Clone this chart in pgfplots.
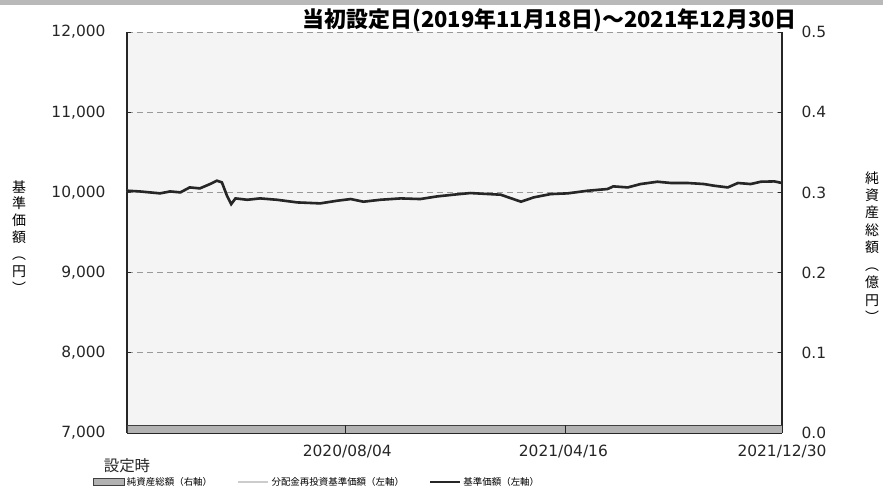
\documentclass[border=0pt]{standalone}
\usepackage{pgfplots}
\pgfplotsset{compat=1.18}
\usepackage{fontspec}
\setmainfont{DejaVu Sans}
\newfontfamily\jp{Noto Sans CJK JP}
\definecolor{plotbg}{HTML}{F4F4F4}
\definecolor{axcol}{HTML}{262626}
\pgfplotsset{
  lightleg/.style={legend image code/.code={\draw[gray!40, line width=2.4pt] (0bp,0bp) -- (30bp,0bp);}},
  darkleg/.style={legend image code/.code={\draw[black!85, line width=2.4pt] (0bp,0bp) -- (30bp,0bp);}},
  boxleg/.style={legend image code/.code={\draw[fill=gray!60, draw=black!75, line width=0.8pt] (0bp,-3.5bp) rectangle (31bp,3.5bp);}},
}
\begin{document}
\begin{tikzpicture}[x=1bp,y=1bp]
\path[use as bounding box] (0,0) rectangle (883,493);
\fill[gray!55] (0,488) rectangle (883,493);
\pgfplotsset{
  common/.style={
    scale only axis, width=655bp, height=401bp,
    at={(127bp,60bp)}, anchor=south west,
    xmin=0, xmax=773,
    axis line style={axcol, line width=1.4pt},
    tick style={axcol, line width=0.8pt},
    tick align=inside, major tick length=4bp,
    /pgf/number format/assume math mode=true,
    ticklabel style={font=\fontsize{15.5}{17}\selectfont, text=black!85},
  }
}
\begin{axis}[common,
  axis background/.style={fill=plotbg},
  ymin=7000, ymax=12000,
  ytick={7000,8000,9000,10000,11000,12000},
  scaled y ticks=false,
  yticklabel style={/pgf/number format/.cd, fixed, 1000 sep={,}, /tikz/.cd, xshift=-18bp},
  ymajorgrids, grid style={dashed, gray!80, line width=0.8pt, dash pattern=on 6bp off 4bp},
  xtick={0,260,515,773},
  xticklabels={{\rule{0pt}{26bp}\jp 設定時},2020/08/04,2021/04/16,2021/12/30},
  xticklabel style={yshift=-9bp},
  axis y line*=left, axis x line*=bottom,
  clip=false,
]
\addplot[gray!35, line width=2.4pt] coordinates {
(0,10021)(15,10012)(39,9988)(51,10012)(63,10000)(74,10062)(86,10050)(98,10104)(106,10146)(112,10125)(118,9958)(123,9854)(128,9925)(142,9908)(157,9925)(177,9908)(201,9875)(228,9863)(248,9896)(264,9917)(279,9884)(299,9908)(323,9925)(346,9917)(366,9950)(385,9971)(405,9992)(441,9971)(465,9884)(480,9938)(500,9979)(520,9988)(544,10021)(567,10042)(574,10075)(591,10062)(606,10104)(626,10133)(642,10117)(662,10117)(681,10104)(693,10083)(709,10062)(721,10117)(736,10104)(748,10133)(764,10137)(773,10117)};
\addplot[black!85, line width=2.6pt] coordinates {
(0,10021)(15,10012)(39,9988)(51,10012)(63,10000)(74,10062)(86,10050)(98,10104)(106,10146)(112,10125)(118,9958)(123,9854)(128,9925)(142,9908)(157,9925)(177,9908)(201,9875)(228,9863)(248,9896)(264,9917)(279,9884)(299,9908)(323,9925)(346,9917)(366,9950)(385,9971)(405,9992)(441,9971)(465,9884)(480,9938)(500,9979)(520,9988)(544,10021)(567,10042)(574,10075)(591,10062)(606,10104)(626,10133)(642,10117)(662,10117)(681,10104)(693,10083)(709,10062)(721,10117)(736,10104)(748,10133)(764,10137)(773,10117)};
\end{axis}
\begin{axis}[common,
  ymin=0, ymax=0.5,
  ytick={0,0.1,0.2,0.3,0.4,0.5},
  yticklabel style={/pgf/number format/.cd, fixed, fixed zerofill, precision=1, /tikz/.cd, xshift=16bp},
  axis y line*=right, axis x line=none,
  legend columns=3,
  legend style={at={(-37bp,-49bp)}, anchor=west, draw=none, fill=none,
    font=\jp\fontsize{9.5}{11}\selectfont,
    /tikz/every even column/.append style={column sep=23bp},
    nodes={inner xsep=2bp}},
]
\addplot[fill=gray!60, draw=black!75, line width=0.8pt, boxleg]
  coordinates {(0,0.009)(773,0.009)} \closedcycle;
\addlegendentry{純資産総額（右軸）}
\addlegendimage{lightleg}
\addlegendentry{分配金再投資基準価額（左軸）}
\addlegendimage{darkleg}
\addlegendentry{基準価額（左軸）}
\end{axis}
\draw[axcol, line width=0.8pt] (345,60) -- (345,68);
\draw[axcol, line width=0.8pt] (565,60) -- (565,68);
\node[font=\jp\bfseries\fontsize{22}{23}\selectfont, anchor=base east, inner sep=0] at (797,465) {当初設定日(2019年11月18日)～2021年12月30日};
\node[font=\jp\fontsize{14}{17}\selectfont, align=center, inner sep=0] at (19,256) {基\\準\\価\\額\\︵\\円\\︶};
\node[font=\jp\fontsize{14}{17.5}\selectfont, align=center, inner sep=0] at (872,246) {純\\資\\産\\総\\額\\︵\\億\\円\\︶};
\end{tikzpicture}
\end{document}
